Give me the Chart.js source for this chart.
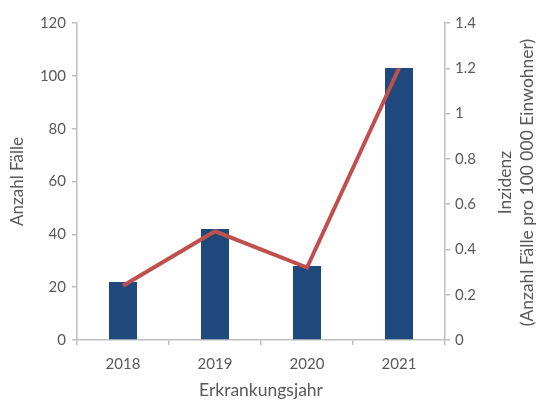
<!DOCTYPE html>
<html>
<head>
<meta charset="utf-8">
<script src="https://cdn.jsdelivr.net/npm/chart.js@4"></script>
<style>
html,body{margin:0;padding:0;background:#fff;}
#wrap{width:537px;height:401px;position:relative;}
</style>
</head>
<body>
<div id="wrap"><canvas id="c" width="537" height="401"></canvas></div>
<script>
const categories = ['2018', '2019', '2020', '2021'];
const cases = [22, 42, 28, 103];
const incidence = [0.24, 0.48, 0.32, 1.2];
const leftTickLabels = ['0', '20', '40', '60', '80', '100', '120'];
const rightTickLabels = ['0', '0.2', '0.4', '0.6', '0.8', '1', '1.2', '1.4'];
const leftTitle = 'Anzahl Fälle';
const rightTitleLines = ['Inzidenz', '(Anzahl Fälle pro 100\u202F000 Einwohner)'];
const xTitle = 'Erkrankungsjahr';

const FONT = 'Lato, "Open Sans", sans-serif';
const TXT = '#595959';
const AX = '#bfbfbf';

const rightTitlePlugin = {
  id: 'rightTitle',
  afterDraw(chart) {
    const s = chart.scales.y1;
    const ca = chart.chartArea;
    const ctx = chart.ctx;
    ctx.save();
    ctx.fillStyle = TXT;
    ctx.font = '17.5px ' + FONT;
    ctx.textAlign = 'center';
    ctx.textBaseline = 'middle';
    const cy = (ca.top + ca.bottom) / 2 + 1;
    const xs = [s.left + 60, s.left + 82];
    rightTitleLines.forEach((t, i) => {
      ctx.save();
      ctx.translate(xs[i], cy);
      ctx.rotate(-Math.PI / 2);
      ctx.fillText(t, 0, 0);
      ctx.restore();
    });
    ctx.restore();
  }
};

new Chart(document.getElementById('c'), {
  data: {
    labels: categories,
    datasets: [
      {
        type: 'line',
        data: incidence,
        yAxisID: 'y1',
        borderColor: '#c0504d',
        borderWidth: 4,
        pointRadius: 0,
        tension: 0,
        order: 0
      },
      {
        type: 'bar',
        data: cases,
        yAxisID: 'y',
        backgroundColor: '#1f497d',
        categoryPercentage: 1,
        barPercentage: 0.305,
        order: 1
      }
    ]
  },
  options: {
    responsive: false,
    animation: false,
    events: [],
    layout: { padding: { top: 23, left: 0, right: 0, bottom: 0 } },
    plugins: { legend: { display: false }, tooltip: { enabled: false } },
    scales: {
      x: {
        offset: true,
        grid: { display: true, offset: true, drawOnChartArea: false, color: AX, tickLength: 5, lineWidth: 1.5 },
        border: { color: AX, width: 1.5 },
        ticks: { color: TXT, font: { family: FONT, size: 15 }, padding: 10, maxRotation: 0 },
        title: { display: true, text: xTitle, color: TXT, font: { family: FONT, size: 17.5 }, padding: { top: 0, bottom: 0 } },
        afterFit(s) { s.height = 61; }
      },
      y: {
        position: 'left',
        min: 0, max: 120,
        ticks: { stepSize: 20, color: TXT, font: { family: FONT, size: 15 }, padding: 6,
          callback: (v, i) => leftTickLabels[i] },
        grid: { display: true, drawOnChartArea: false, color: AX, tickLength: 5, lineWidth: 1.5 },
        border: { color: AX, width: 1.5 },
        title: { display: true, text: leftTitle, color: TXT, font: { family: FONT, size: 17 }, padding: { top: 7, bottom: 0 } },
        afterFit(s) { s.width = 77; }
      },
      y1: {
        position: 'right',
        min: 0, max: 1.4,
        ticks: { stepSize: 0.2, color: TXT, font: { family: FONT, size: 15 }, padding: 5,
          callback: (v, i) => rightTickLabels[i] },
        grid: { display: true, drawOnChartArea: false, color: AX, tickLength: 5, lineWidth: 1.5 },
        border: { color: AX, width: 1.5 },
        title: { display: false },
        afterFit(s) { s.width = 92; }
      }
    }
  },
  plugins: [rightTitlePlugin]
});
</script>
</body>
</html>
